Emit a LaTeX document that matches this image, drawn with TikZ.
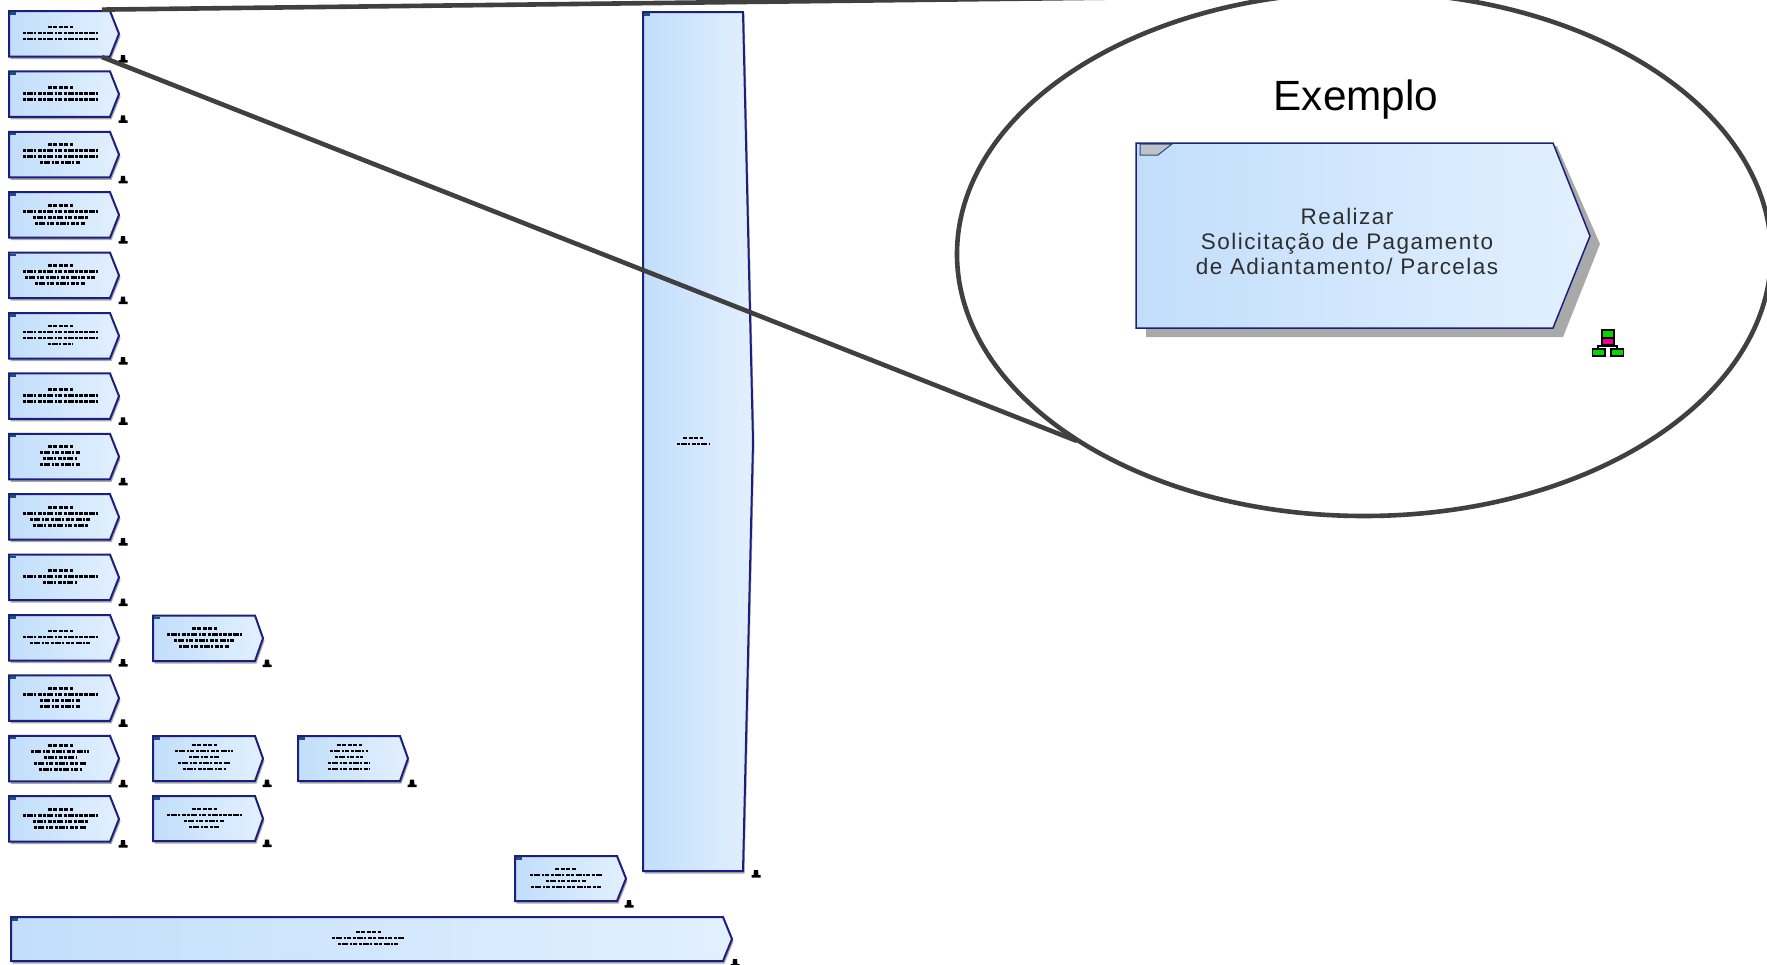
\documentclass[tikz,border=0pt]{standalone}
\usepackage{fontspec}
\usetikzlibrary{shapes.geometric}
\setmainfont{Liberation Sans}
\newfontfamily\lblfont[LetterSpace=6.5]{Liberation Sans}
\definecolor{boxedge}{HTML}{1C1F80}
\definecolor{fillL}{HTML}{C2DEFB}
\definecolor{fillR}{HTML}{E2F0FF}
\definecolor{shadowgray}{HTML}{A9A9A9}
\definecolor{lensgray}{HTML}{404040}
\definecolor{tagdark}{HTML}{1F4E80}
\tikzset{
  x=1pt,y=-1pt,
  edgeline/.style={draw=boxedge,line width=2pt,line join=miter},
  boxfill/.style={left color=fillL,right color=fillR},
  shade box/.style={fill=shadowgray},
  lensline/.style={draw=lensgray,line width=4.6pt},
  dust/.style={draw=black,line width=2.8pt,dash pattern=on 3.2pt off 1.1pt on 6pt off 1.3pt on 2.2pt off 1.2pt on 4pt off 1.6pt},
  dusttop/.style={draw=black,line width=2.8pt,dash pattern=on 4pt off 1.6pt},
}
% name, left, top, right, tip, bottom
\newcommand{\procbox}[6]{%
  \fill[shade box] ({#2+1.5},{#3+2.5}) -- ({#4+1.5},{#3+2.5}) -- ({#5+1.5},{(#3+#6)/2+2.5}) -- ({#4+1.5},{#6+2.5}) -- ({#2+1.5},{#6+2.5}) -- cycle;
  \path[boxfill] (#2,#3) -- (#4,#3) -- (#5,{(#3+#6)/2}) -- (#4,#6) -- (#2,#6) -- cycle;
  \draw[edgeline] (#2,#3) -- (#4,#3) -- (#5,{(#3+#6)/2}) -- (#4,#6) -- (#2,#6) -- cycle;
  \fill[tagdark] ({#2+1},{#3+1}) rectangle ({#2+7},{#3+3.5});
  \coordinate (#1) at (#2,#3);
}
% centre x, first line y, list of widths
\newcommand{\dustlines}[3]{%
  \foreach \w [count=\i from 0] in {#3} {
    \ifnum\i=0
      \draw[dusttop] ({#1-\w/2},{#2}) -- ({#1+\w/2},{#2});
    \else
      \draw[dust] ({#1-\w/2},{#2+6*\i}) -- ({#1+\w/2},{#2+6*\i});
    \fi
  }
}
% hierarchy mark, black
\newcommand{\hmark}[2]{%
  \fill[black] ({#1-2},{#2-4}) -- ({#1+2},{#2-4}) -- ({#1+2.5},{#2+1}) -- ({#1+4.5},{#2+1}) -- ({#1+4.5},{#2+3.5}) -- ({#1-4.5},{#2+3.5}) -- ({#1-4.5},{#2+1}) -- ({#1-2.5},{#2+1}) -- cycle;
}
% row index, number of lines, widths
\newcommand{\rowbox}[3]{%
  \pgfmathsetmacro{\tp}{11+60.4*#1}
  \pgfmathsetmacro{\bt}{\tp+45.5}
  \pgfmathsetmacro{\mk}{\bt+2.5}
  \pgfmathsetmacro{\fy}{\tp+22-3*(#2-1)}
  \procbox{row#1}{9}{\tp}{110}{119}{\bt}
  \hmark{123}{\mk}
  \dustlines{60}{\fy}{#3}
}
\begin{document}
\begin{tikzpicture}
\useasboundingbox (0,0) rectangle (1767,964);
\fill[white] (0,0) rectangle (1767,964);

% left column boxes
\rowbox{0}{3}{25,75,75}
\rowbox{1}{3}{25,75,75}
\rowbox{2}{4}{25,75,75,40}
\rowbox{3}{4}{25,75,55,50}
\rowbox{4}{4}{25,75,70,50}
\rowbox{5}{4}{25,75,75,25}
\rowbox{6}{3}{25,75,75}
\rowbox{7}{4}{25,40,35,40}
\rowbox{8}{4}{25,75,60,55}
\rowbox{9}{3}{25,75,35}
\rowbox{10}{3}{25,75,60}
\rowbox{11}{4}{25,75,40,40}
\rowbox{12}{5}{25,58,33,52,43}
\rowbox{13}{4}{25,75,55,52}

% second and third columns
\procbox{c2a}{153}{615.5}{255}{263}{661}
\hmark{267}{663.5}
\dustlines{204}{628.5}{25,75,60,50}
\procbox{c2b}{153}{736}{255}{263}{781}
\hmark{267}{783.5}
\dustlines{204}{745}{25,58,30,52,43}
\procbox{c2c}{153}{796}{255}{263}{841}
\hmark{267}{843.5}
\dustlines{204}{809}{25,75,40,30}
\procbox{c3a}{298}{736}{400}{408}{781}
\hmark{412}{783.5}
\dustlines{349}{745}{25,38,28,42,42}

% bottom boxes
\procbox{mid}{515}{856}{617}{626}{901}
\hmark{629}{904}
\dustlines{566}{869}{22,72,40,70}
\procbox{wide}{11}{917}{723}{732}{961}
\hmark{735}{963}
\dustlines{368}{932}{25,72,60}

% tall column
\procbox{tall}{643}{12}{743}{753}{871}
\hmark{756}{874}
\dustlines{693}{438}{20,33}

% magnifier lens
\node[ellipse,draw=lensgray,line width=4.6pt,minimum width=814pt,minimum height=524pt,inner sep=0pt,outer sep=0pt,anchor=center] (lens) at (1364,254) {};
\coordinate (lensTop) at (1265,-4.2);
\coordinate (lensBot) at (1077,441);
\coordinate (srcTop) at (102,9.6);
\coordinate (srcBot) at (102,57);
\draw[lensline] (srcTop) -- (lensTop);
\draw[lensline] (srcBot) -- (lensBot);

\node[font=\fontsize{42.3}{46}\selectfont,text=black,anchor=center,inner sep=0pt] (exlabel) at (1356,100) {Exemplo};

% enlarged example box
\fill[shadowgray] (1146,337) -- (1146,150) -- (1557,146) -- (1600,244) -- (1563,337) -- cycle;
\path[boxfill] (1136,143) -- (1553,143) -- (1590,236) -- (1553,328) -- (1136,328) -- cycle;
\draw[boxedge,line width=1.5pt] (1136,143) -- (1553,143) -- (1590,236) -- (1553,328) -- (1136,328) -- cycle;
\filldraw[fill=black!4!blue!8!gray!45,draw=tagdark,line width=1pt] (1140,144) -- (1172,144) -- (1158,155) -- (1140,155) -- cycle;
\node[font=\lblfont\fontsize{22.5}{25}\selectfont,text=black!82,align=center,inner sep=0pt,anchor=center] (exbox) at (1347,241) {Realizar\\Solicitação de Pagamento\\de Adiantamento/ Parcelas};

% hierarchy icon
\draw[black,line width=1.2pt] (1608,345) -- (1608,346) (1598,349) -- (1598,346) -- (1617,346) -- (1617,349);
\filldraw[fill=green!85!black,draw=black,line width=1.5pt] (1602,330) rectangle (1614,338);
\filldraw[fill=magenta,draw=black,line width=1.5pt] (1602,338) rectangle (1614,345);
\filldraw[fill=green!85!black,draw=black,line width=1.5pt] (1592.5,349) rectangle (1605,356);
\filldraw[fill=green!85!black,draw=black,line width=1.5pt] (1611,349) rectangle (1623.5,356);
\end{tikzpicture}
\end{document}
